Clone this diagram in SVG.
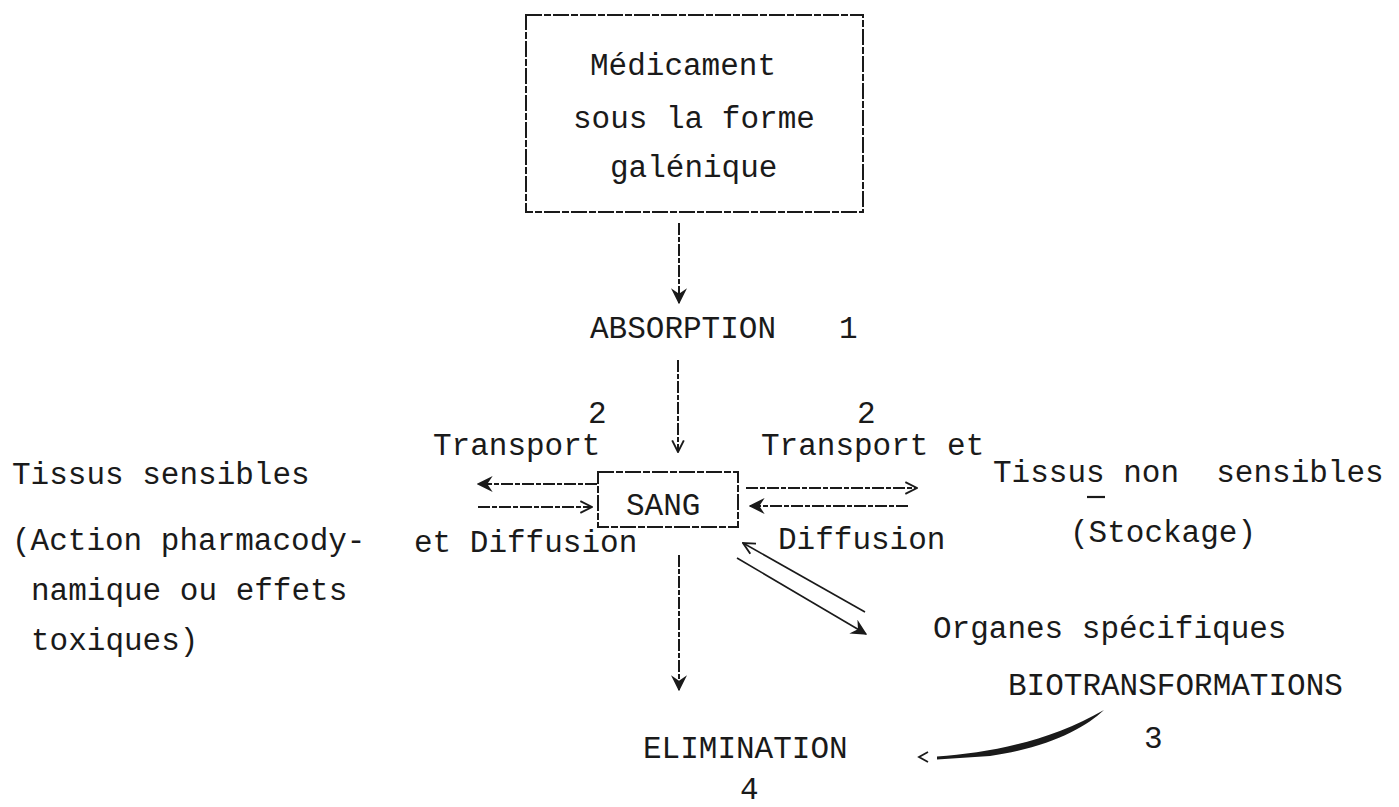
<svg xmlns="http://www.w3.org/2000/svg" width="1399" height="807" viewBox="0 0 1399 807">
<style>
text{font-family:"Liberation Mono","Courier New",monospace;font-size:31px;fill:#1a1a1a;white-space:pre}
.box{fill:none;stroke:#1a1a1a;stroke-width:2;stroke-dasharray:16 2 7 2}
.ln{fill:none;stroke:#1a1a1a;stroke-width:2;stroke-dasharray:12 2 5 2}
.ln2{fill:none;stroke:#1a1a1a;stroke-width:1.6}
</style>
<defs>
<marker id="open" viewBox="0 0 12 12" refX="11" refY="6" markerWidth="14" markerHeight="14" markerUnits="userSpaceOnUse" orient="auto">
<path d="M1,1 L11,6 L1,11" fill="none" stroke="#1a1a1a" stroke-width="1.6"/>
</marker>
<marker id="solid" viewBox="0 0 12 12" refX="11" refY="6" markerWidth="16" markerHeight="16" markerUnits="userSpaceOnUse" orient="auto">
<path d="M0,0 L12,6 L0,12 L4,6 Z" fill="#1a1a1a"/>
</marker>
</defs>

<g id="node-medicament">
<rect class="box" x="526" y="15" width="337" height="197"/>
<text x="590" y="75">Médicament</text>
<text x="573" y="128">sous la forme</text>
<text x="610" y="177">galénique</text>
</g>

<g id="node-absorption">
<text x="590" y="338">ABSORPTION</text>
<text x="839" y="338">1</text>
</g>

<g id="node-sang">
<rect class="box" x="598" y="472" width="140" height="55"/>
<text x="626" y="515">SANG</text>
</g>

<g id="label-transport-left">
<text x="588" y="423">2</text>
<text x="433" y="455">Transport</text>
<text x="414" y="552">et Diffusion</text>
</g>

<g id="label-transport-right">
<text x="857" y="423">2</text>
<text x="761" y="455">Transport et</text>
<text x="778" y="549">Diffusion</text>
</g>

<g id="node-tissus-sensibles">
<text x="12" y="484">Tissus sensibles</text>
<text x="12" y="550">(Action pharmacody-</text>
<text x="31" y="600">namique ou effets</text>
<text x="31" y="650">toxiques)</text>
</g>

<g id="node-tissus-non-sensibles">
<text x="993" y="482">Tissus non  sensibles</text>
<line x1="1087" y1="497" x2="1105" y2="497" stroke="#1a1a1a" stroke-width="2.2"/>
<text x="1070" y="542">(Stockage)</text>
</g>

<g id="node-organes">
<text x="933" y="638">Organes spécifiques</text>
<text x="1008" y="695">BIOTRANSFORMATIONS</text>
<text x="1144" y="748">3</text>
</g>

<g id="node-elimination">
<text x="643" y="758">ELIMINATION</text>
<text x="740" y="799">4</text>
</g>

<g id="connectors">
<line class="ln" x1="679" y1="223" x2="679" y2="303" marker-end="url(#solid)"/>
<line class="ln" x1="678" y1="360" x2="678" y2="452" marker-end="url(#open)"/>
<line class="ln" x1="597" y1="484" x2="478" y2="484" marker-end="url(#solid)"/>
<line class="ln" x1="478" y1="507" x2="592" y2="507" marker-end="url(#open)"/>
<line class="ln" x1="746" y1="488" x2="917" y2="488" marker-end="url(#open)"/>
<line class="ln" x1="908" y1="506" x2="750" y2="506" marker-end="url(#solid)"/>
<line class="ln2" x1="865" y1="612" x2="743" y2="543" marker-end="url(#open)"/>
<line class="ln2" x1="737" y1="558" x2="866" y2="634" marker-end="url(#solid)"/>
<line class="ln" x1="679" y1="555" x2="679" y2="690" marker-end="url(#solid)"/>
<path d="M937,756.5 C990,753 1050,741 1104,710 C1085,728 1050,747 990,756 L937,759.5 Z" fill="#1a1a1a"/>
<path d="M928,752 L919,757 L928,762" fill="none" stroke="#1a1a1a" stroke-width="1.8"/>
</g>
</svg>
